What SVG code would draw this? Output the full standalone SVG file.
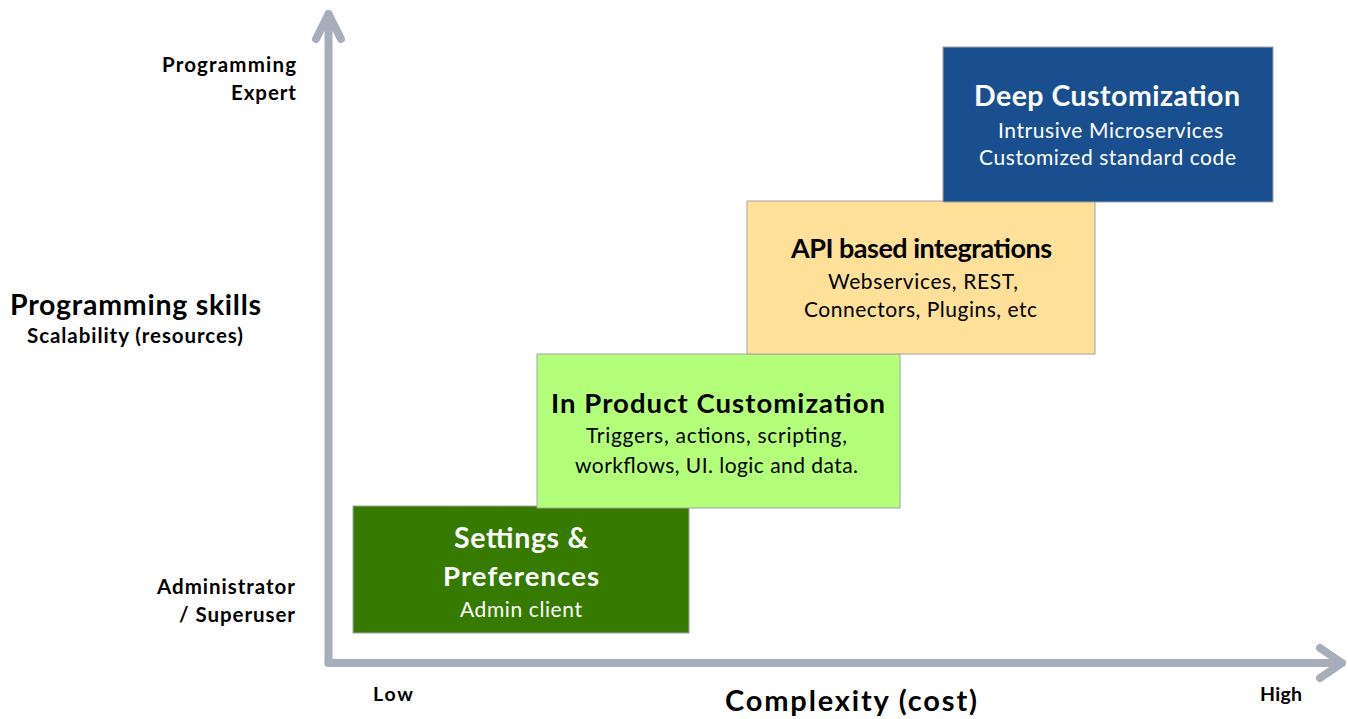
<svg xmlns="http://www.w3.org/2000/svg" width="1348" height="719" viewBox="0 0 1348 719">
<style>
.box{stroke:#a3a3a3;stroke-width:1}
.t{font-family:Lato,"Liberation Sans",sans-serif;text-anchor:middle}
.title{font-size:27.5px;font-weight:bold}
.sub{font-size:21px}
.lab{font-family:Lato,"Liberation Sans",sans-serif;font-weight:bold;fill:#000}
.axis{stroke:#a6adbb;stroke-width:8;fill:none;stroke-linecap:round;stroke-linejoin:round}
</style>
<rect width="1348" height="719" fill="#fff"/>
<g id="axes">
<path class="axis" d="M328.5 663 V14 M316 39 L328.5 14 L341 39"/>
<path class="axis" d="M328.5 663 H1342 M1320 648 L1342 663 L1320 678"/>
</g>
<g id="axis-labels">
<text class="lab" x="296" y="72" font-size="20.5" text-anchor="end" textLength="134">Programming</text>
<text class="lab" x="296" y="100" font-size="20.5" text-anchor="end" textLength="65">Expert</text>
<text class="lab" x="10" y="315" font-size="28.5" textLength="251">Programming skills</text>
<text class="lab" x="27" y="343" font-size="20.5" textLength="216">Scalability (resources)</text>
<text class="lab" x="295" y="594" font-size="20.5" text-anchor="end" textLength="138">Administrator</text>
<text class="lab" x="295" y="622" font-size="20.5" text-anchor="end" textLength="116">/ Superuser</text>
<text class="lab" x="373" y="701" font-size="19.5" textLength="40">Low</text>
<text class="lab" x="725" y="711" font-size="29" textLength="252">Complexity (cost)</text>
<text class="lab" x="1260" y="701" font-size="19.5" textLength="42">High</text>
</g>
<g id="settings">
<rect class="box" x="353" y="506" width="336" height="127" fill="#367b00"/>
<text class="t title" x="521" y="548" fill="#fff" style="font-size:28.5px" textLength="134">Settings &amp;</text>
<text class="t title" x="521" y="586" fill="#fff" textLength="156">Preferences</text>
<text class="t sub" x="521" y="617" fill="#fff" textLength="122">Admin client</text>
</g>
<g id="inproduct">
<rect class="box" x="537" y="354" width="363" height="154" fill="#b3ff79"/>
<text class="t title" x="718" y="413" fill="#000" textLength="334">In Product Customization</text>
<text class="t sub" x="716.5" y="443" fill="#000" textLength="261">Triggers, actions, scripting,</text>
<text class="t sub" x="716.5" y="473" fill="#000" textLength="283">workflows, UI. logic and data.</text>
</g>
<g id="api">
<rect class="box" x="747" y="201" width="348" height="153" fill="#ffe098"/>
<text class="t title" x="921.5" y="258" fill="#000" style="font-size:27px" textLength="261">API based integrations</text>
<text class="t sub" x="923" y="289" fill="#000" textLength="190">Webservices, REST,</text>
<text class="t sub" x="920.5" y="317" fill="#000" textLength="233">Connectors, Plugins, etc</text>
</g>
<g id="deep">
<rect class="box" x="943" y="47" width="330" height="155" fill="#1a4f8f"/>
<text class="t title" x="1107" y="106" fill="#fff" style="font-size:28.5px" textLength="266">Deep Customization</text>
<text class="t sub" x="1110.5" y="138" fill="#fff" textLength="225">Intrusive Microservices</text>
<text class="t sub" x="1107.5" y="165" fill="#fff" textLength="257">Customized standard code</text>
</g>
</svg>
